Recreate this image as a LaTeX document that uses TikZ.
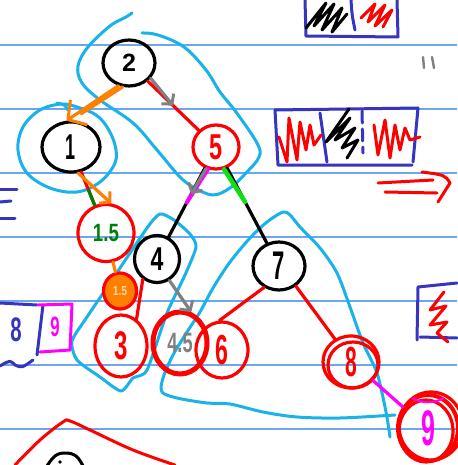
\documentclass[tikz,border=0pt]{standalone}
\usepackage{fontspec}
\setmainfont{Liberation Sans}
\usetikzlibrary{arrows.meta,shapes.geometric,calc}
\definecolor{rulec}{HTML}{6EA6EE}
\definecolor{cyanb}{HTML}{1AB2EA}
\definecolor{pen}{HTML}{FF0000}
\definecolor{ink}{HTML}{000000}
\definecolor{orng}{HTML}{FF8000}
\definecolor{grn}{HTML}{00800A}
\definecolor{lime}{HTML}{10E010}
\definecolor{mag}{HTML}{FF00FF}
\definecolor{gry}{HTML}{808080}
\definecolor{navy}{HTML}{3535C0}
\newcommand\nar[2][0.7]{\scalebox{#1}[1]{#2}}
\tikzset{
  stroke/.style={line width=3.2pt,line cap=round,line join=round},
  tnode/.style={ellipse,draw,stroke,inner sep=0pt},
  blk/.style={tnode,draw=ink,text=ink},
  rd/.style={tnode,draw=pen,text=pen},
  fsz/.style={font=\fontsize{#1}{#1}\selectfont\bfseries},
  loopb/.style={line width=3pt,line cap=round,line join=round,draw=cyanb},
  barb/.style={-{Straight Barb[length=13pt,width=30pt,line width=3pt]}},
  sbarb/.style={-{Straight Barb[length=7pt,width=16pt,line width=3pt]}},
  scrib/.style={line width=3pt,line cap=round,line join=round},
}
\begin{document}
\begin{tikzpicture}[x=1pt,y=-1pt]
\useasboundingbox (0,0) rectangle (457,465);
\fill[white] (0,0) rectangle (457,465);
\foreach \y in {45,109,173,237,301,365,429} \draw[rulec,line width=1.4pt] (0,\y) -- (457,\y);

% ---------- blue loops ----------
\draw[loopb] plot[smooth,tension=0.6] coordinates {(132,13) (126,17) (110,26) (88,47) (78,66) (82,83) (100,100) (133,123) (157,150) (180,177) (195,188) (213,195) (230,188) (246,173) (259,157) (257,143) (236,112) (220,92) (206,70) (184,47) (158,35) (142,33)};
\draw[loopb] plot[smooth cycle,tension=0.6] coordinates {(62,104) (40,110) (23,127) (18,150) (27,173) (50,188) (77,192) (100,182) (115,163) (115,145) (107,127) (96,115) (80,108)};
\draw[loopb] plot[smooth,tension=0.5] coordinates {(57,103) (64,105) (68,110)};
\draw[loopb] plot[smooth cycle,tension=0.4] coordinates {(160,214) (174,220) (190,234) (196,247) (185,275) (167,313) (147,370) (133,378) (121,391) (100,377) (77,360) (72,341) (87,317) (110,283) (147,228)};
\draw[loopb] plot[smooth,tension=0.5] coordinates {(390,437) (386,412) (377,373) (363,343) (350,307) (337,273) (320,248) (300,227) (290,215) (283,212) (267,222) (250,238) (230,262) (213,288) (200,312) (187,332) (173,355) (163,378) (162,392) (177,398) (207,403) (230,404) (263,412) (297,417) (340,418) (395,415)};

% ---------- tree nodes ----------
\node[blk,fsz=25,minimum width=52pt,minimum height=46pt] (n2) at (129,63) {2};
\node[blk,fsz=36,minimum width=58pt,minimum height=50pt] (n1) at (71,147) {\nar[0.5]{1}};
\node[rd,fsz=36,minimum width=46pt,minimum height=44pt] (n5) at (216,147) {\nar[0.65]{5}};
\node[rd,fsz=25,text=grn,minimum width=56pt,minimum height=57pt] (n15) at (106,233) {\nar[0.75]{1.5}};
\node[blk,fsz=33,minimum width=45pt,minimum height=47pt] (n4) at (157,259) {\nar[0.7]{4}};
\node[rd,fsz=13,fill=orng,text=orng!35!white,minimum width=33pt,minimum height=36pt] (n15s) at (120,291) {\nar[0.8]{1.5}};
\node[rd,fsz=40,minimum width=52pt,minimum height=62pt] (n3) at (121,346) {\nar[0.6]{3}};
\node[rd,fsz=28,text=gry,line width=5pt,minimum width=54pt,minimum height=62pt] (n45) at (180,343) {\nar[0.65]{4.5}};
\node[rd,fsz=42,minimum width=52pt,minimum height=56pt] (n6) at (222,350) {\nar[0.55]{6}};
\node[blk,fsz=40,minimum width=52pt,minimum height=48pt] (n7) at (279,266) {\nar[0.55]{7}};
\node[rd,fsz=42,minimum width=56pt,minimum height=52pt] (n8) at (351,362) {\nar[0.5]{8}};
\node[rd,fsz=50,text=mag,line width=4pt,minimum width=60pt,minimum height=66pt] (n9) at (428,428) {\nar[0.5]{9}};
\draw[pen,stroke] ($(n8)+(2,3)$) ellipse (25pt and 23pt);
\draw[pen,stroke] ($(n9)+(3,-2)$) ellipse (32pt and 34pt);
\draw[pen,stroke] ($(n9)+(-2,3)$) ellipse (27pt and 31pt);
\draw[mag,line width=2pt] ($(n9)+(-16,-30)$) arc (240:300:32pt);

% ---------- connectors ----------
\draw[stroke,pen] (n2) -- (n5);
\path (n2) -- (n5) coordinate[pos=0.5] (g25);
\draw[stroke,gry,sbarb] (n2.-35) -- (g25);
\draw[stroke,orng,barb] (n2.245) -- (n1.100);
\path (n2.255) -- (n1.90) coordinate[pos=0.8] (o21);
\draw[stroke,orng] (n2.255) -- (o21);

\draw[stroke,pen] (n1) -- (n15);
\path (n1) -- (n15) coordinate[pos=0.55] (g115);
\draw[stroke,grn] (g115) -- (n15);
\draw[stroke,orng,sbarb] (n1.-75) -- (n15.80);

\draw[stroke,ink] (n5) -- (n4);
\path (n5) -- (n4) coordinate[pos=0.5] (m54) coordinate[pos=0.38] (g54);
\draw[stroke,mag,line width=4pt] (n5.250) -- (m54);
\draw[stroke,gry,sbarb] (n5.245) -- (g54);

\draw[stroke,ink] (n5) -- (n7);
\path (n5) -- (n7) coordinate[pos=0.45] (l57);
\draw[stroke,lime,line width=4.5pt] (n5.-70) -- (l57);

\draw[stroke,orng] (n15) -- (n15s);
\draw[stroke,pen] (n4.235) -- (n3.60);
\draw[stroke,gry,sbarb] (n4.-60) -- (n45.70);
\draw[stroke,pen] (n7.235) -- (n6.95);
\draw[stroke,pen] (n7.-50) -- (n8.125);
\draw[stroke,mag] (n8.-40) -- (n9.140);

% ---------- top right box ----------
\draw[navy,scrib] (305,0) -- (306,36) -- (398,37) -- (397,0);
\draw[navy,scrib] (351,0) .. controls (352,15) .. (355,30);
\draw[ink,scrib] plot coordinates {(306,28) (326,3) (314,26) (334,4) (322,30) (342,8) (332,32) (347,14)};
\draw[pen,scrib] plot coordinates {(361,18) (375,4) (368,22) (385,5) (375,26) (392,10) (383,27)};
% ditto
\draw[gry,line width=2.4pt,line cap=round] (423,57) -- (424,68);
\draw[gry,line width=2.4pt,line cap=round] (432,57) -- (434,68);

% ---------- middle right box ----------
\draw[navy,scrib] (275,110) -- (418,108) -- (413,162);
\draw[navy,scrib] (275,110) -- (278,165) -- (412,165);
\draw[navy,scrib] (320,113) -- (327,162);
\draw[navy,scrib,dash pattern=on 12pt off 6pt] (362,111) -- (363,153);
\draw[pen,scrib] plot coordinates {(279,137) (287,162) (289,118) (297,160) (300,122) (306,150) (310,125) (314,145) (321,135)};
\draw[ink,scrib] plot coordinates {(349,109) (326,142) (350,118) (335,140) (355,128) (342,148) (358,140) (347,158)};
\draw[pen,scrib] plot coordinates {(374,125) (378,155) (385,120) (390,158) (395,125) (400,150) (405,128) (410,140) (420,137)};
% red double arrow
\draw[pen,scrib] (378,183) -- (433,180);
\draw[pen,scrib] (385,192) -- (437,193);
\draw[pen,scrib] (422,172) .. controls (445,175) .. (450,183) -- (438,202);

% ---------- left margin ----------
\draw[navy,scrib] (0,189) -- (17,189);
\draw[navy,scrib] (0,202) -- (11,201);
\draw[navy,scrib] (0,218) -- (15,218);
\draw[navy,scrib] (0,303) -- (37,305);
\draw[navy,scrib] (43,305) -- (37,355);
\draw[navy,scrib] (0,366) .. controls (10,360) .. (15,365) .. controls (22,368) .. (33,360);
\draw[mag,scrib] (38,305) -- (72,304) -- (70,350) -- (40,352);
\node[text=navy,fsz=34] (t8) at (16,330) {\nar[0.6]{8}};
\node[text=mag,fsz=28] (t9) at (55,327) {\nar[0.6]{9}};

% ---------- right margin bracket ----------
\draw[navy,scrib] (457,283) -- (418,287) -- (417,340);
\draw[navy,scrib] (420,337) -- (457,338);
\draw[pen,scrib] plot coordinates {(444,292) (430,310) (446,306) (430,325) (447,322) (437,333) (448,342)};

% ---------- bottom ----------
\draw[pen,scrib] plot[smooth,tension=0.6] coordinates {(15,465) (40,440) (63,422) (70,421) (90,430) (133,450) (175,465)};
\draw[ink,scrib] plot[smooth,tension=0.7] coordinates {(47,466) (55,456) (65,453) (76,456) (83,466)};
\fill[ink] (60,462) circle (1.8pt);
\end{tikzpicture}
\end{document}
